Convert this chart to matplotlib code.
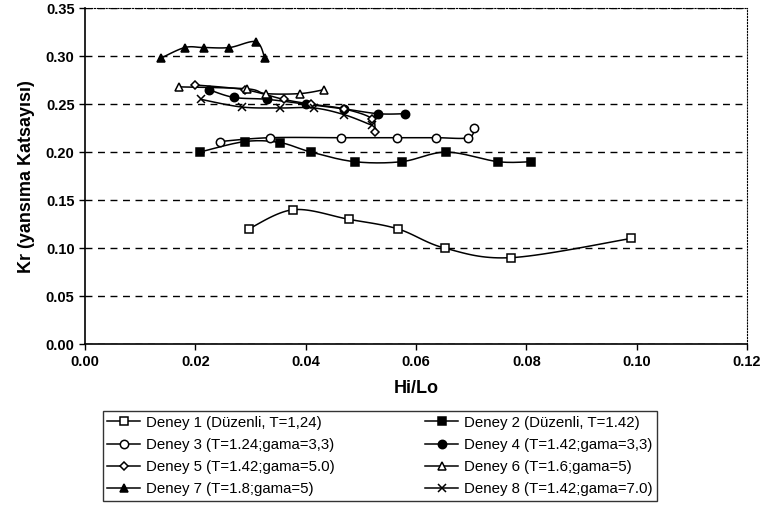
import numpy as np
import matplotlib
matplotlib.use("Agg")
import matplotlib.pyplot as plt
from matplotlib.lines import Line2D

plt.rcParams['font.family'] = ['Liberation Sans', 'DejaVu Sans']

# Hi/Lo and Kr for each test
d1_x = [0.0297, 0.0378, 0.0478, 0.0567, 0.0652, 0.0773, 0.099]
d1_y = [0.12, 0.14, 0.13, 0.12, 0.10, 0.09, 0.11]
d2_x = [0.0208, 0.029, 0.0353, 0.041, 0.0489, 0.0574, 0.0655, 0.0749, 0.0809]
d2_y = [0.20, 0.211, 0.21, 0.20, 0.19, 0.19, 0.20, 0.19, 0.19]
d3_x = [0.0244, 0.0335, 0.0465, 0.0565, 0.0637, 0.0695, 0.0706]
d3_y = [0.211, 0.215, 0.215, 0.215, 0.215, 0.215, 0.225]
d4_x = [0.0225, 0.027, 0.033, 0.040, 0.047, 0.0532, 0.058]
d4_y = [0.265, 0.257, 0.255, 0.25, 0.245, 0.24, 0.24]
d5_x = [0.020, 0.029, 0.036, 0.041, 0.047, 0.052, 0.0525]
d5_y = [0.27, 0.265, 0.255, 0.25, 0.245, 0.235, 0.221]
d6_x = [0.017, 0.0293, 0.0328, 0.039, 0.0433]
d6_y = [0.268, 0.266, 0.261, 0.261, 0.265]
d7_x = [0.0138, 0.0181, 0.0215, 0.0262, 0.031, 0.0326]
d7_y = [0.298, 0.309, 0.309, 0.309, 0.315, 0.298]
d8_x = [0.021, 0.0284, 0.0353, 0.0415, 0.047, 0.052]
d8_y = [0.255, 0.247, 0.246, 0.246, 0.239, 0.228]

labels = ["Deney 1 (Düzenli, T=1,24)", "Deney 2 (Düzenli, T=1.42)",
          "Deney 3 (T=1.24;gama=3,3)", "Deney 4 (T=1.42;gama=3,3)",
          "Deney 5 (T=1.42;gama=5.0)", "Deney 6 (T=1.6;gama=5)",
          "Deney 7 (T=1.8;gama=5)", "Deney 8 (T=1.42;gama=7.0)"]
series = [(d1_x, d1_y), (d2_x, d2_y), (d3_x, d3_y), (d4_x, d4_y),
          (d5_x, d5_y), (d6_x, d6_y), (d7_x, d7_y), (d8_x, d8_y)]
markers = [('s', 'white'), ('s', 'black'), ('o', 'white'), ('o', 'black'),
           ('D', 'white'), ('^', 'white'), ('^', 'black'), ('x', 'black')]


def smooth(x, y, n=20):
    # Catmull-Rom curve through the points, like a smoothed line
    p = np.column_stack([x, y]).astype(float)
    p = np.vstack([p[0], p, p[-1]])
    out = []
    for i in range(1, len(p) - 2):
        p0, p1, p2, p3 = p[i - 1], p[i], p[i + 1], p[i + 2]
        t = np.linspace(0, 1, n)[:, None]
        seg = 0.5 * ((2 * p1) + (-p0 + p2) * t +
                     (2 * p0 - 5 * p1 + 4 * p2 - p3) * t ** 2 +
                     (-p0 + 3 * p1 - 3 * p2 + p3) * t ** 3)
        out.append(seg)
    out = np.vstack(out)
    return out[:, 0], out[:, 1]


fig = plt.figure(figsize=(7.76, 5.05), dpi=100)
ax = fig.add_axes([0.1095, 0.3188, 0.853, 0.665])

handles = []
for (x, y), (m, fc), lab in zip(series, markers, labels):
    sx, sy = smooth(x, y)
    ax.plot(sx, sy, color='black', lw=1.1, zorder=2)
    ms = 4.5 if m == 'D' else 6
    ax.plot(x, y, ls='none', marker=m, ms=ms, mfc=fc, mec='black',
            mew=1.1, zorder=3)
    handles.append(Line2D([], [], color='black', lw=1.1, marker=m,
                          ms=ms, mfc=fc, mec='black', mew=1.1, label=lab))

ax.set_xlim(0, 0.12)
ax.set_ylim(0, 0.35)
ax.set_xticks(np.arange(0, 0.121, 0.02))
ax.set_yticks(np.arange(0, 0.351, 0.05))
ax.xaxis.set_major_formatter(plt.FormatStrFormatter('%.2f'))
ax.yaxis.set_major_formatter(plt.FormatStrFormatter('%.2f'))
for t in ax.get_xticklabels() + ax.get_yticklabels():
    t.set_fontweight('bold')
    t.set_fontsize(10.5)
ax.tick_params(direction='out', length=4, width=1, color='black')
ax.tick_params(axis='x', pad=4)

ax.grid(axis='y', color='black', ls=(0, (5, 4)), lw=1)
ax.set_axisbelow(True)
ax.spines['left'].set_linewidth(1.2)
ax.spines['bottom'].set_linewidth(1.2)
ax.spines['top'].set_linestyle(':')
ax.spines['right'].set_linestyle(':')

ax.set_xlabel('Hi/Lo', fontsize=13, fontweight='bold', labelpad=8)
ax.set_ylabel('Kr (yansıma Katsayısı)', fontsize=13, fontweight='bold',
              labelpad=8)

order = [0, 2, 4, 6, 1, 3, 5, 7]
leg = fig.legend([handles[i] for i in order], [labels[i] for i in order],
                 ncol=2, loc='upper left', bbox_to_anchor=(0.1327, 0.186),
                 borderaxespad=0, fontsize=10.8, frameon=True, fancybox=False,
                 edgecolor='black', handlelength=2.2, handletextpad=0.4,
                 columnspacing=6.0, labelspacing=0.55, borderpad=0.3)
leg.get_frame().set_linewidth(1)

fig.savefig('out.png', dpi=100)
